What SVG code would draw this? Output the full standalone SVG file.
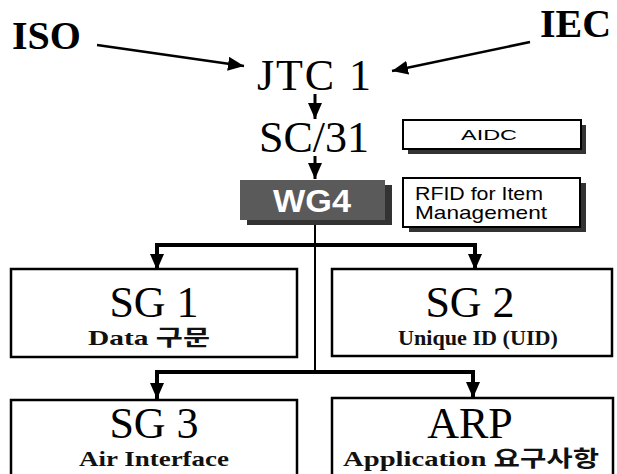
<svg xmlns="http://www.w3.org/2000/svg" width="617" height="474" viewBox="0 0 617 474">
<style>
.big{font-family:"Liberation Serif",serif;font-size:44px;fill:#000}
.bigb{font-family:"Liberation Serif",serif;font-size:40px;font-weight:bold;fill:#000}
.sub{font-family:"Liberation Serif","Noto Sans CJK KR",serif;font-size:22px;font-weight:bold;fill:#111}
.sans{font-family:"Liberation Sans",sans-serif;fill:#000}
.box{fill:#fff;stroke:#000;stroke-width:2.5}
.note{fill:#fff;stroke:#000;stroke-width:2}
.shadow{fill:#333}
.conn{fill:none;stroke:#000}
</style>
<defs>
<marker id="ah" viewBox="0 0 16 14" refX="16" refY="7" markerWidth="16" markerHeight="14" markerUnits="userSpaceOnUse" orient="auto">
<path d="M0,0 L16,7 L0,14 z" fill="#000"/>
</marker>
</defs>
<rect width="617" height="474" fill="#fff"/>

<g id="connectors">
<path class="conn" d="M97,45 L244,66" stroke-width="2.5" marker-end="url(#ah)"/>
<path class="conn" d="M530,42 L392,71" stroke-width="2.5" marker-end="url(#ah)"/>
<path class="conn" d="M315,94 L315,119" stroke-width="3" marker-end="url(#ah)"/>
<path class="conn" d="M315,156 L315,179" stroke-width="3" marker-end="url(#ah)"/>
<path class="conn" d="M315,220 L315,372" stroke-width="2"/>
<path class="conn" d="M315,245 L157,245 L157,270" stroke-width="4" marker-end="url(#ah)"/>
<path class="conn" d="M315,245 L475,245 L475,270" stroke-width="4" marker-end="url(#ah)"/>
<path class="conn" d="M315,372 L157,372 L157,399" stroke-width="4" marker-end="url(#ah)"/>
<path class="conn" d="M315,372 L473,372 L473,398" stroke-width="4" marker-end="url(#ah)"/>
</g>

<g id="iso"><text class="bigb" x="12" y="49">ISO</text></g>
<g id="iec"><text class="bigb" x="540" y="37">IEC</text></g>
<g id="jtc1"><text class="big" x="257" y="90" textLength="114">JTC 1</text></g>
<g id="sc31"><text class="big" x="259" y="152">SC/31</text></g>

<g id="aidc">
<rect class="shadow" x="408" y="125" width="178" height="29"/>
<rect class="note" x="403" y="120" width="178" height="29"/>
<text class="sans" x="489" y="140" font-size="15" text-anchor="middle" textLength="56" lengthAdjust="spacingAndGlyphs">AIDC</text>
</g>

<g id="wg4">
<rect class="shadow" x="247" y="185" width="145" height="40"/>
<rect x="240" y="180" width="145" height="40" fill="#5a5a5a"/>
<text class="sans" x="312" y="212" font-size="32" font-weight="bold" text-anchor="middle" textLength="78" lengthAdjust="spacingAndGlyphs" style="fill:#fff">WG4</text>
</g>

<g id="rfid">
<rect class="shadow" x="409" y="183" width="177" height="49"/>
<rect class="note" x="403" y="178" width="177" height="49"/>
<text class="sans" x="415" y="200" font-size="19" textLength="128" lengthAdjust="spacingAndGlyphs">RFID for Item</text>
<text class="sans" x="415" y="219" font-size="19" textLength="132" lengthAdjust="spacingAndGlyphs">Management</text>
</g>

<g id="sg1">
<rect class="box" x="11" y="269" width="286" height="88"/>
<text class="big" x="154" y="317" text-anchor="middle">SG 1</text>
<text class="sub" x="149" y="345" text-anchor="middle" textLength="122" lengthAdjust="spacingAndGlyphs">Data 구문</text>
</g>

<g id="sg2">
<rect class="box" x="332" y="269" width="280" height="87"/>
<text class="big" x="470" y="317" text-anchor="middle">SG 2</text>
<text class="sub" x="478" y="345" text-anchor="middle" textLength="160" lengthAdjust="spacingAndGlyphs">Unique ID (UID)</text>
</g>

<g id="sg3">
<rect class="box" x="11" y="400" width="286" height="80"/>
<text class="big" x="154" y="438" text-anchor="middle">SG 3</text>
<text class="sub" x="154" y="466" text-anchor="middle" textLength="150" lengthAdjust="spacingAndGlyphs">Air Interface</text>
</g>

<g id="arp">
<rect class="box" x="332" y="398" width="281" height="82"/>
<text class="big" x="470" y="438" text-anchor="middle">ARP</text>
<text class="sub" x="471" y="466" text-anchor="middle" textLength="256" lengthAdjust="spacingAndGlyphs">Application 요구사항</text>
</g>
</svg>
